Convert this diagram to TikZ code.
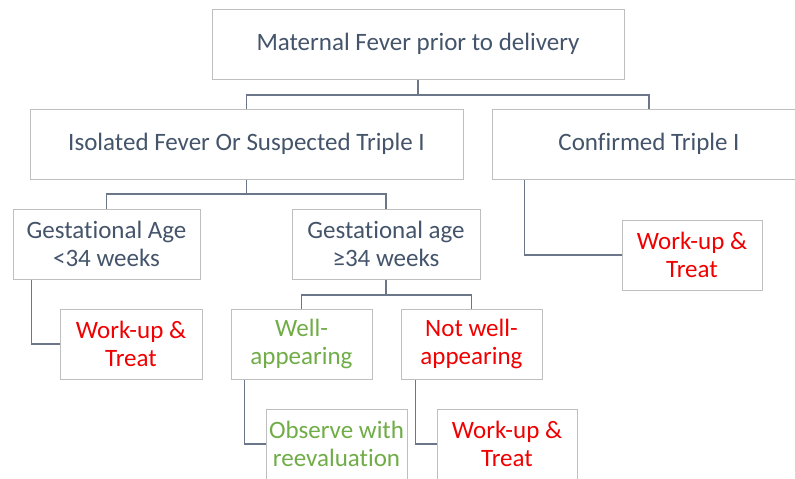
\documentclass[tikz,border=0pt]{standalone}
\usepackage{fontspec}
\setmainfont{Carlito}[Ligatures={NoCommon}]
\definecolor{txtdark}{HTML}{44546A}
\definecolor{txtred}{HTML}{F00000}
\definecolor{txtgreen}{HTML}{70AD47}
\definecolor{boxline}{HTML}{BFBFBF}
\definecolor{connline}{HTML}{6B7689}
\newcommand{\tibreak}{t\kern0pt i}
\tikzset{
  box/.style={draw=boxline, line width=1pt, fill=white, inner sep=0pt, align=center,
    font=\fontsize{25}{28}\selectfont},
  conn/.style={draw=connline, line width=1.3pt},
}
\begin{document}
\begin{tikzpicture}[x=1pt,y=-1pt]
\useasboundingbox (0,0) rectangle (795,479);
\clip (0,0) rectangle (795,479);
\fill[white] (0,0) rectangle (795,479);
% boxes
\node[box, text=txtdark, minimum width=412pt, minimum height=70pt] (top) at (418,44) {Maternal Fever prior to delivery};
\node[box, text=txtdark, minimum width=433pt, minimum height=70pt] (iso) at (246.5,144) {Isolated Fever Or Suspected Triple I};
\node[box, text=txtdark, minimum width=314pt, minimum height=70pt] (conf) at (649,144) {Confirmed Triple I};
\node[box, text=txtdark, minimum width=187pt, minimum height=70pt] (ga1) at (106.5,244) {Gesta\tibreak onal Age\\<34 weeks};
\node[box, text=txtdark, minimum width=188pt, minimum height=70pt] (ga2) at (386,244) {Gesta\tibreak onal age\\≥34 weeks};
\node[box, text=txtred, minimum width=140pt, minimum height=70pt] (wt1) at (692,255) {Work-up \&\\Treat};
\node[box, text=txtred, minimum width=142pt, minimum height=70pt] (wt2) at (131,344) {Work-up \&\\Treat};
\node[box, text=txtgreen, minimum width=141pt, minimum height=70pt] (well) at (301.5,344) {Well-\\appearing};
\node[box, text=txtred, minimum width=141pt, minimum height=70pt] (nw) at (471.5,344) {Not well-\\appearing};
\node[box, text=txtgreen, minimum width=141pt, minimum height=70pt] (obs) at (336.5,444) {Observe with\\reevaluation};
\node[box, text=txtred, minimum width=140pt, minimum height=70pt] (wt3) at (507,444) {Work-up \&\\Treat};
% connectors
\coordinate (b1) at (418,95);
\draw[conn] (top.south) -- (b1);
\draw[conn] (iso.north) |- (b1) -| (conf.north);
\coordinate (b2) at (246.5,194);
\draw[conn] (iso.south) -- (b2);
\draw[conn] (ga1.north) |- (b2) -| (ga2.north);
\coordinate (b3) at (386,295);
\draw[conn] (ga2.south) -- (b3);
\draw[conn] (well.north) |- (b3) -| (nw.north);
\draw[conn] ([xshift=33pt]conf.south west) |- (wt1.west);
\draw[conn] ([xshift=19pt]ga1.south west) |- (wt2.west);
\draw[conn] ([xshift=14pt]well.south west) |- (obs.west);
\draw[conn] ([xshift=15pt]nw.south west) |- (wt3.west);
\end{tikzpicture}
\end{document}
